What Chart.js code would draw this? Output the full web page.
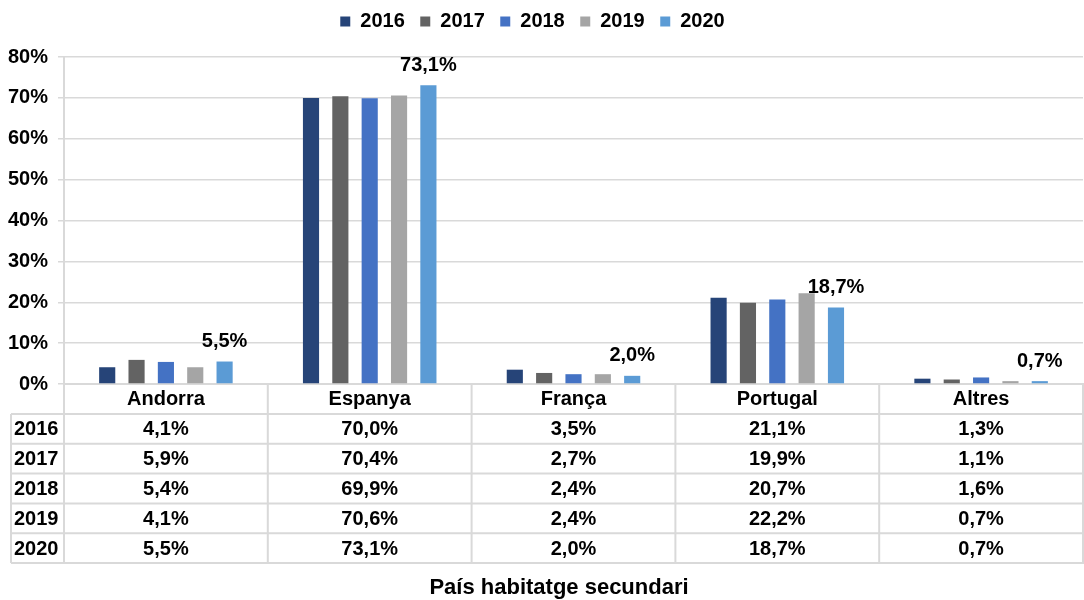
<!DOCTYPE html>
<html>
<head>
<meta charset="utf-8">
<script src="https://cdn.jsdelivr.net/npm/chart.js@4.4.0/dist/chart.umd.min.js"></script>
<style>
  html, body { margin: 0; padding: 0; background: #fff; }
  #wrap { width: 1084px; height: 600px; position: relative; }
</style>
</head>
<body>
<div id="wrap"><canvas id="chart"></canvas></div>
<script>
// chart data
const categories = ['Andorra', 'Espanya', 'França', 'Portugal', 'Altres'];
const years = ['2016', '2017', '2018', '2019', '2020'];
const v2016 = [4.1, 70.0, 3.5, 21.1, 1.3];
const v2017 = [5.9, 70.4, 2.7, 19.9, 1.1];
const v2018 = [5.4, 69.9, 2.4, 20.7, 1.6];
const v2019 = [4.1, 70.6, 2.4, 22.2, 0.7];
const v2020 = [5.5, 73.1, 2.0, 18.7, 0.7];
const yTicks = [0, 10, 20, 30, 40, 50, 60, 70, 80];
const axisTitle = 'País habitatge secundari';

const series = [v2016, v2017, v2018, v2019, v2020];
const colors = ['#264478', '#636363', '#4472c4', '#a5a5a5', '#5b9bd5'];
const FONT = '"Liberation Sans", Arial, sans-serif';
const LINE = '#d9d9d9';

function pct(v){ return v.toFixed(1).replace('.', ',') + '%'; }

// legend: keep the item spacing but sit higher, with more room under it
const legendTweak = {
  id: 'legendTweak',
  afterInit(chart){
    const lg = chart.legend;
    if (!lg) return;
    const fit = lg.fit, draw = lg.draw;
    lg.fit = function(){ fit.call(this); this.height += 11.5; };
    lg.draw = function(){
      chart.ctx.save();
      chart.ctx.translate(-9, -4);
      draw.call(this);
      chart.ctx.restore();
    };
  }
};

// labels above the 2020 bars
const lastLabels = {
  id: 'lastLabels',
  afterDatasetsDraw(chart){
    const ctx = chart.ctx;
    const meta = chart.getDatasetMeta(4);
    ctx.save();
    ctx.font = 'bold 20px ' + FONT;
    ctx.fillStyle = '#000';
    ctx.textAlign = 'center';
    ctx.textBaseline = 'middle';
    meta.data.forEach((bar, i) => {
      ctx.fillText(pct(v2020[i]), bar.x, bar.y - 20);
    });
    ctx.restore();
  }
};

// data table under the x axis (Excel style)
const dataTable = {
  id: 'dataTable',
  afterDraw(chart){
    const ctx = chart.ctx;
    const x = chart.scales.x;
    const top = chart.chartArea.bottom;
    const colW = x.width / categories.length;
    const rowH = 29.8;
    const headBottom = top + 30;
    const tableBottom = headBottom + rowH * years.length;
    const leftEdge = 11;
    ctx.save();
    ctx.strokeStyle = LINE;
    ctx.lineWidth = 2;
    ctx.beginPath();
    for (let c = 0; c <= categories.length; c++) {
      const lx = Math.min(x.left + c * colW, chart.width - 1);
      ctx.moveTo(lx, top);
      ctx.lineTo(lx, tableBottom);
    }
    ctx.moveTo(leftEdge, headBottom);
    ctx.lineTo(leftEdge, tableBottom);
    for (let r = 0; r <= years.length; r++) {
      const ly = headBottom + r * rowH;
      ctx.moveTo(leftEdge, ly);
      ctx.lineTo(chart.width, ly);
    }
    ctx.stroke();

    ctx.fillStyle = '#000';
    ctx.font = 'bold 20px ' + FONT;
    ctx.textBaseline = 'middle';
    years.forEach((yr, r) => {
      const cy = headBottom + r * rowH + rowH / 2 + 1;
      ctx.textAlign = 'left';
      ctx.fillText(yr, leftEdge + 3, cy);
      ctx.textAlign = 'center';
      series[r].forEach((v, c) => {
        ctx.fillText(pct(v), x.getPixelForValue(c), cy);
      });
    });

    ctx.font = 'bold 22px ' + FONT;
    ctx.textAlign = 'center';
    ctx.fillText(axisTitle, 559, 588);
    ctx.restore();
  }
};

new Chart(document.getElementById('chart'), {
  type: 'bar',
  data: {
    labels: categories,
    datasets: years.map((yr, i) => ({
      label: yr,
      data: series[i],
      backgroundColor: colors[i],
      categoryPercentage: 0.72,
      barPercentage: 0.55
    }))
  },
  options: {
    responsive: true,
    maintainAspectRatio: false,
    animation: false,
    layout: { padding: { left: 0, right: 1, top: 0, bottom: 0 } },
    plugins: {
      legend: {
        position: 'top',
        labels: {
          color: '#000',
          font: { family: FONT, size: 20, weight: 'bold' },
          boxWidth: 10,
          boxHeight: 10,
          padding: 15.5
        }
      },
      tooltip: { enabled: false }
    },
    scales: {
      x: {
        grid: { display: false, drawTicks: false },
        border: { color: LINE, width: 2 },
        ticks: { color: '#000', font: { family: FONT, size: 20, weight: 'bold' }, padding: 3 },
        afterFit(scale){ scale.height = 216; }
      },
      y: {
        min: 0,
        max: 80,
        afterBuildTicks(scale){ scale.ticks = yTicks.map(v => ({ value: v })); },
        grid: { color: LINE, lineWidth: 1.5, tickLength: 6 },
        border: { color: LINE, width: 2 },
        ticks: {
          color: '#000',
          font: { family: FONT, size: 20, weight: 'bold' },
          padding: 10,
          callback: v => v + '%'
        },
        afterFit(scale){ scale.width = 64; }
      }
    }
  },
  plugins: [legendTweak, lastLabels, dataTable]
});
</script>
</body>
</html>
